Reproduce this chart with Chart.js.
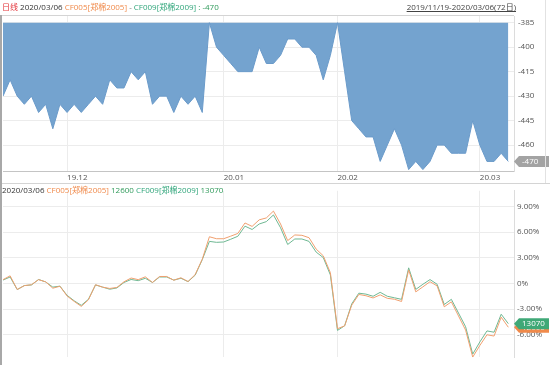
<!DOCTYPE html>
<html>
<head>
<meta charset="utf-8">
<script src="https://cdn.jsdelivr.net/npm/chart.js@4.4.1/dist/chart.umd.min.js"></script>
<style>
  body { margin: 0; width: 550px; height: 365px; overflow: hidden; background: #fff; position: relative;
         font-family: "Open Sans", "Noto Sans CJK SC", sans-serif; }
  canvas { position: absolute; left: 0; }
  #spreadChart { top: 0; }
  #pctChart { top: 183px; }
  .hdr { position: absolute; left: 2px; font-size: 8px; line-height: 14px; white-space: nowrap; }
  .range { position: absolute; right: 34px; top: 0; font-size: 8px; line-height: 14px; color: #444; text-decoration: underline; white-space: nowrap; }
  .line { position: absolute; background: #d4d4d4; }
</style>
</head>
<body>
<canvas id="spreadChart" width="550" height="183"></canvas>
<canvas id="pctChart" width="550" height="182"></canvas>

<div class="line" style="left:0;top:15px;width:514px;height:1px"></div>
<div class="line" style="left:0;top:183px;width:550px;height:1px"></div>
<div class="line" style="left:545px;top:0;width:1px;height:183px;background:#e2e2e2"></div>
<div class="line" style="left:0;top:15px;width:2px;height:350px;background:#a8a8a8"></div>

<div class="hdr" style="top:0">
  <span style="color:#e3343a">日线</span>
  <span style="color:#333">2020/03/06</span>
  <span style="color:#f08a4b">CF005[郑棉2005]</span>
  <span style="color:#777">-</span>
  <span style="color:#2fa57a">CF009[郑棉2009]</span><span style="color:#2f9a5a"> : -470</span>
</div>
<div class="range">2019/11/19-2020/03/06(72日)</div>
<div class="hdr" style="top:183px">
  <span style="color:#333">2020/03/06</span>
  <span style="color:#f08a4b">CF005[郑棉2005]</span>
  <span style="color:#2f9a5a">12600</span>
  <span style="color:#2fa57a">CF009[郑棉2009]</span>
  <span style="color:#2f9a5a">13070</span>
</div>

<script>
// 72 trading days, 2019/11/19 - 2020/03/06
const monthTicks = [9, 31, 47, 67];
const monthLabels = ['19.12', '20.01', '20.02', '20.03'];

// CF005 - CF009 spread
const spread = [
  -430, -420, -430, -435, -430, -440, -435, -450, -435, -440,
  -435, -440, -435, -430, -435, -420, -425, -425, -415, -420,
  -415, -435, -430, -430, -440, -430, -435, -430, -440, -385,
  -400, -405, -410, -415, -415, -415, -400, -410, -410, -405,
  -395, -395, -400, -400, -405, -420, -405, -385, -415, -445,
  -450, -455, -455, -470, -460, -450, -460, -475, -470, -475,
  -470, -460, -460, -465, -465, -465, -445, -460, -470, -470,
  -465, -470
];
const spreadTicks = [-385, -400, -415, -430, -445, -460];

// percent change of each contract
const cf005Pct = [
  0.44, 0.89, -0.71, -0.26, -0.15, 0.44, 0.18, -0.56, -0.33, -1.47,
  -2.10, -2.68, -1.92, -0.15, -0.44, -0.59, -0.47, 0.19, 0.63, 0.44,
  0.77, 0.11, 0.81, 0.81, 0.37, 0.66, 0.22, 1.03, 2.83, 5.45,
  5.22, 5.22, 5.52, 5.84, 7.06, 6.66, 7.43, 7.65, 8.45, 6.94,
  5.00, 5.66, 5.62, 5.34, 4.01, 3.23, 1.25, -5.29, -4.96, -2.54,
  -1.29, -1.44, -1.70, -1.34, -1.74, -1.85, -2.11, 1.58, -0.99, -0.40,
  0.20, -0.29, -2.73, -2.15, -3.80, -5.45, -8.61, -7.25, -6.00, -6.15,
  -3.94, -5.12
];
const cf009Pct = [
  0.39, 0.75, -0.72, -0.25, -0.18, 0.46, 0.17, -0.43, -0.32, -1.39,
  -2.03, -2.56, -1.86, -0.18, -0.43, -0.68, -0.53, 0.11, 0.46, 0.32,
  0.60, 0.11, 0.75, 0.75, 0.39, 0.60, 0.21, 0.96, 2.78, 4.91,
  4.80, 4.84, 5.16, 5.51, 6.69, 6.30, 6.94, 7.22, 8.00, 6.50,
  4.55, 5.19, 5.19, 4.91, 3.66, 3.02, 0.99, -5.49, -4.95, -2.39,
  -1.14, -1.25, -1.50, -1.04, -1.50, -1.68, -1.86, 1.82, -0.70, -0.10,
  0.45, -0.10, -2.46, -1.86, -3.46, -5.06, -8.26, -6.84, -5.55, -5.70,
  -3.60, -4.70
];
const pctTicks = [9, 6, 3, 0, -3, -6];
const lastCf005 = '12600';
const lastCf009 = '13070';
const lastSpread = '-470';

const tickFont = { family: '"Open Sans", sans-serif', size: 8 };
const toPoints = arr => arr.map((v, i) => ({ x: i, y: v }));

function drawTag(ctx, x, y, text, color) {
  ctx.save();
  ctx.fillStyle = color;
  ctx.beginPath();
  ctx.moveTo(x, y);
  ctx.lineTo(x + 5, y - 5.5);
  ctx.lineTo(549, y - 5.5);
  ctx.lineTo(549, y + 5.5);
  ctx.lineTo(x + 5, y + 5.5);
  ctx.closePath();
  ctx.fill();
  ctx.fillStyle = '#fff';
  ctx.font = '8px "Open Sans", sans-serif';
  ctx.textBaseline = 'middle';
  ctx.fillText(text, x + 8, y + 0.5);
  ctx.restore();
}

function xScale(hideLabels) {
  return {
    type: 'linear', min: 0, max: 71.8,
    afterBuildTicks: s => { s.ticks = monthTicks.map(v => ({ value: v })); },
    afterFit: s => { s.height = hideLabels ? 0 : 11.3; },
    grid: { color: '#ececec', drawTicks: false },
    border: hideLabels ? { display: false } : { color: '#c4c4c4' },
    ticks: {
      display: !hideLabels, autoSkip: false, maxRotation: 0, align: 'start', padding: 1,
      font: tickFont, color: '#555',
      callback: (v, i) => monthLabels[i]
    }
  };
}

new Chart(document.getElementById('spreadChart'), {
  type: 'line',
  data: {
    datasets: [{
      data: toPoints(spread),
      borderColor: '#6b9bca',
      backgroundColor: '#74a3cf',
      borderWidth: 1,
      fill: { value: Math.max(...spread) },
      pointRadius: 0,
      tension: 0
    }]
  },
  options: {
    responsive: false, animation: false, events: [],
    layout: { padding: { left: 3, top: 16, right: 0, bottom: 0 } },
    plugins: { legend: { display: false }, tooltip: { enabled: false } },
    scales: {
      x: xScale(false),
      y: {
        position: 'right', min: -476.3, max: -380.9,
        afterBuildTicks: s => { s.ticks = spreadTicks.map(v => ({ value: v })); },
        afterFit: s => { s.width = 36; },
        grid: { color: '#ececec', drawTicks: false },
        border: { color: '#dcdcdc' },
        ticks: { padding: 4, font: tickFont, color: '#555' }
      }
    }
  },
  plugins: [{
    id: 'lastTag',
    afterDraw(chart) {
      const y = chart.scales.y.getPixelForValue(spread[spread.length - 1]);
      drawTag(chart.ctx, 514, y, lastSpread, '#a3a3a3');
    }
  }]
});

new Chart(document.getElementById('pctChart'), {
  type: 'line',
  data: {
    datasets: [
      { data: toPoints(cf005Pct), borderColor: '#f0a070', borderWidth: 1, pointRadius: 0, tension: 0, fill: false },
      { data: toPoints(cf009Pct), borderColor: '#6fb893', borderWidth: 1, pointRadius: 0, tension: 0, fill: false }
    ]
  },
  options: {
    responsive: false, animation: false, events: [],
    layout: { padding: { left: 3, top: 0, right: 0, bottom: 0 } },
    plugins: { legend: { display: false }, tooltip: { enabled: false } },
    scales: {
      x: xScale(true),
      y: {
        position: 'right', min: -8.62, max: 10.82,
        afterBuildTicks: s => { s.ticks = pctTicks.map(v => ({ value: v })); },
        afterFit: s => { s.width = 36; },
        grid: { color: '#ececec', drawTicks: false },
        border: { color: '#dcdcdc' },
        ticks: {
          padding: 3, font: tickFont, color: '#555',
          callback: v => v === 0 ? '0%' : v.toFixed(2) + '%'
        }
      }
    }
  },
  plugins: [{
    id: 'lastTags',
    afterDraw(chart) {
      const ys = chart.scales.y;
      drawTag(chart.ctx, 514, ys.getPixelForValue(cf005Pct[cf005Pct.length - 1]), lastCf005, '#f08a4b');
      drawTag(chart.ctx, 514, ys.getPixelForValue(cf009Pct[cf009Pct.length - 1]), lastCf009, '#3fa877');
    }
  }]
});
</script>
</body>
</html>
